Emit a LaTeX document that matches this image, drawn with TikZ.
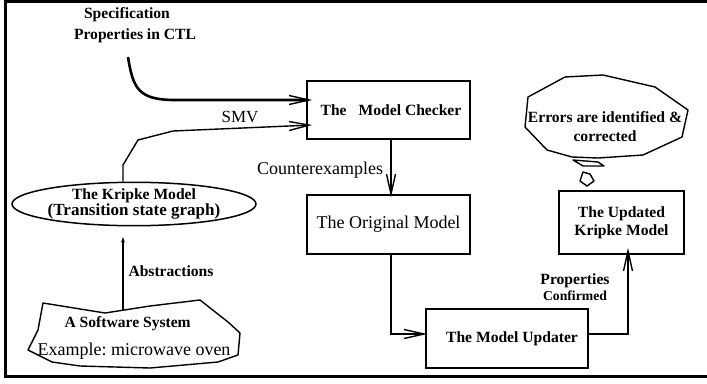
\documentclass[tikz,border=0pt]{standalone}
\usepackage{fontspec}
\setmainfont{Liberation Serif}
\usetikzlibrary{arrows.meta,shapes.geometric,calc}
\frenchspacing
\begin{document}
\begin{tikzpicture}[x=1pt,y=-1pt,
  box/.style={draw,line width=1.5pt,inner sep=0pt},
  bt/.style={font=\fontsize{15.6}{18}\selectfont\bfseries},
  rt/.style={font=\fontsize{18}{21}\selectfont},
  conn/.style={line width=1.4pt,-{Straight Barb[length=20pt,width=9pt]}},
  shapeline/.style={line width=1.4pt,line join=round},
]
\useasboundingbox (0,0) rectangle (707,383);
\draw[line width=3pt] (707,1) -- (5,1) -- (5,376) -- (707,376);

% boxes
\node[box,bt,minimum width=163pt,minimum height=58pt] (mc) at (388.5,110) {\hspace*{5pt}The\hspace{12pt}Model Checker};
\node[box,rt,minimum width=163pt,minimum height=59pt] (orig) at (388.5,224.5) {The Original Model};
\node[box,bt,minimum width=162pt,minimum height=59pt] (upd) at (507,338.5) {\hspace*{10pt}The Model Updater};
\node[box,bt,align=center,minimum width=125pt,minimum height=63pt] (kr2) at (621.5,222.5) {The Updated\\Kripke Model};

% Kripke ellipse
\node[ellipse,draw,line width=1.5pt,minimum width=200pt,minimum height=43pt,inner sep=0pt,
      align=center,font=\fontsize{15.6}{14.5}\selectfont\bfseries] (kripke) at (134,204)
  {The Kripke Model\\{\fontsize{17}{14.5}\selectfont(Transition state graph)}};

% software system cloud
\draw[shapeline] (43,303) -- (105,313) -- (150,306) -- (200,300) -- (228,322) -- (240,333)
  -- (238,355) -- (218,362) -- (150,368) -- (80,366) -- (52,362) -- (28,350) -- (38,330) -- cycle;
\node[align=left,font=\fontsize{18}{28}\selectfont] (soft) at (134,338)
  {\hspace*{27pt}{\fontsize{15.6}{28}\selectfont\bfseries A Software System}\\Example: microwave oven};
\coordinate (softtop) at (123,310);

% thought bubble
\draw[shapeline] (528,97) -- (565,77) -- (603,75) -- (655,87) -- (688,110) -- (682,137)
  -- (643,155) -- (598,158) -- (572,157) -- (547,150) -- (525,127) -- cycle;
\node[align=center,font=\fontsize{15.6}{19}\selectfont\bfseries] (err) at (605,127)
  {Errors are identified \&\\corrected};
\draw[shapeline] (573,160) -- (598,162) -- (604,166) -- (583,166) -- cycle;
\draw[shapeline] (583,172) -- (590,174) -- (594,181) -- (587,186) -- (580,181) -- cycle;

% specification text
\node[align=left,font=\fontsize{15.6}{21}\selectfont\bfseries] (spec) at (135,25)
  {\hspace*{10pt}Specification\\Properties in CTL};
\coordinate (spec0) at (128,57);

% labels
\node[font=\fontsize{17}{20}\selectfont] (smv) at (240,117) {SMV};
\node[rt] (cx) at (320,170) {Counterexamples};
\node[bt] (abs) at (171,271) {Abstractions};
\node[align=center,font=\fontsize{15.6}{16}\selectfont\bfseries] (prop) at (575,287)
  {Properties\\{\fontsize{13.7}{16}\selectfont Confirmed}};

% connectors
\draw[line width=2.6pt,-{Straight Barb[length=20pt,width=9pt,line width=1.4pt]}]
  (spec0) .. controls (133,88) and (138,100) .. (175,100) -- ($(mc.west)+(6,-10)$);
\draw[conn] ($(kripke.north)+(-11,0)$) -- (123,165) -- (138,140) -- (173,131) -- ($(mc.west)+(6,15)$);
\draw[line width=1.8pt,-{Latex[length=7pt,width=4pt]}] (softtop) -- ($(kripke.south)+(-11,9)$);
\draw[conn] ($(mc.south)+(2.5,0)$) -- ($(orig.north)+(2.5,3)$);
\draw[conn] ($(orig.south)+(2.5,0)$) |- ($(upd.west)+(2,-4.5)$);
\draw[conn] ($(upd.east)+(0,-4.5)$) -| ($(kr2.south)+(6.5,-7)$);
\end{tikzpicture}
\end{document}
